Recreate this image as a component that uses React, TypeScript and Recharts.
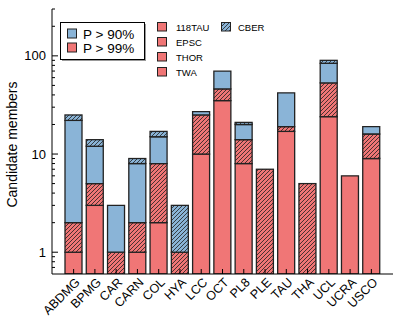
import { BarChart, Bar, XAxis, YAxis } from 'recharts'

// moving groups, left to right
const categories = [
  'ABDMG', 'BPMG', 'CAR', 'CARN', 'COL', 'HYA', 'LCC', 'OCT',
  'PL8', 'PLE', 'TAU', 'THA', 'UCL', 'UCRA', 'USCO',
]
// P > 99%, solid
const highProb = [1, 3, 0, 1, 2, 0, 10, 35, 8, 0, 17, 0, 24, 6, 9]
// P > 99%, hatched
const highProbHatched = [1, 2, 1, 1, 6, 1, 15, 11, 6, 7, 2, 5, 29, 0, 7]
// P > 90%, solid
const midProb = [20, 7, 2, 6, 7, 0, 2, 24, 6, 0, 23, 0, 31, 0, 3]
// P > 90%, hatched
const midProbHatched = [3, 2, 0, 1, 2, 2, 0, 0, 1, 0, 0, 0, 6, 0, 0]

const yTicks = [
  0.7, 0.8, 0.9, 1, 2, 3, 4, 5, 6, 7, 8, 9, 10,
  20, 30, 40, 50, 60, 70, 80, 90, 100, 200, 300,
]
const yMajor = [1, 10, 100]

const sideGroups = ['118TAU', 'EPSC', 'THOR', 'TWA']

const RED = '#F07676'
const BLUE = '#8AB4D7'
const EDGE = '#222'
const FONT = '"Liberation Sans", Arial, Helvetica, sans-serif'
const HATCH_STEP = 4

const data = categories.map((name, i) => ({
  name,
  high: highProb[i],
  highH: highProbHatched[i],
  mid: midProb[i],
  midH: midProbHatched[i],
}))

// "/" hatch lines inside a box, aligned to a global grid
function hatchPath(x0: number, y0: number, w: number, h: number) {
  const x1 = x0 + w
  const y1 = y0 + h
  let d = ''
  const start = Math.ceil((x0 + y0) / HATCH_STEP) * HATCH_STEP
  for (let c = start; c <= x1 + y1; c += HATCH_STEP) {
    const xa = Math.max(x0, c - y1)
    const xb = Math.min(x1, c - y0)
    if (xb <= xa) continue
    d += `M${xa},${c - xa}L${xb},${c - xb}`
  }
  return d
}

const hatchedShape = (color: string) => (props: any) => {
  const { x, y, width, height } = props
  if (!width || !height || !isFinite(height)) return <g />
  return (
    <g>
      <rect x={x} y={y} width={width} height={height} fill={color} />
      <path d={hatchPath(x, y, width, height)} stroke="#1e1e1e" strokeWidth={0.8} fill="none" />
      <rect x={x} y={y} width={width} height={height} fill="none" stroke={EDGE} strokeWidth={1.3} />
    </g>
  )
}

const LeftTick = (props: any) => {
  const { x, y, payload } = props
  const major = yMajor.includes(payload.value)
  return (
    <g>
      <line x1={x} x2={x + (major ? 6 : 3)} y1={y} y2={y} stroke="#000" />
      {major && (
        <text x={x - 6} y={y} dy={4.5} textAnchor="end" fontSize={13} fontFamily={FONT} fill="#000">
          {payload.value}
        </text>
      )}
    </g>
  )
}

const RightTick = (props: any) => {
  const { x, y, payload } = props
  const major = yMajor.includes(payload.value)
  return <line x1={x} x2={x - (major ? 6 : 3)} y1={y} y2={y} stroke="#000" />
}

const BottomTick = (props: any) => {
  const { x, y, payload } = props
  const tx = x + 7
  const ty = y + 9
  return (
    <g>
      <line x1={x} x2={x} y1={y} y2={y - 5} stroke="#000" />
      <text
        x={tx}
        y={ty}
        textAnchor="end"
        fontSize={12.5}
        fontFamily={FONT}
        fill="#000"
        transform={`rotate(-45 ${tx} ${ty})`}
      >
        {payload.value}
      </text>
    </g>
  )
}

const TopTick = (props: any) => {
  const { x, y } = props
  return <line x1={x} x2={x} y1={y} y2={y + 5} stroke="#000" />
}

const YLabel = (props: any) => {
  const vb = props.viewBox
  const cx = vb.x + 12
  const cy = vb.y + vb.height / 2 + 3
  return (
    <text
      x={cx}
      y={cy}
      textAnchor="middle"
      dominantBaseline="central"
      fontSize={14}
      fontFamily={FONT}
      fill="#000"
      transform={`rotate(-90 ${cx} ${cy})`}
    >
      Candidate members
    </text>
  )
}

function Legends() {
  return (
    <svg
      width={403}
      height={323}
      style={{ position: 'absolute', left: 0, top: 0, pointerEvents: 'none' }}
    >
      {/* probability legend */}
      <rect x={62} y={24} width={84} height={37} fill="#999" />
      <rect x={60.5} y={22.5} width={84} height={37} fill="#fff" stroke="#000" />
      <rect x={67.5} y={29} width={9} height={9} fill={BLUE} stroke={EDGE} />
      <text x={83} y={38.5} fontSize={13.5} fontFamily={FONT}>P &gt; 90%</text>
      <rect x={67.5} y={43} width={9} height={9} fill={RED} stroke={EDGE} />
      <text x={83} y={52.5} fontSize={13.5} fontFamily={FONT}>P &gt; 99%</text>
      {/* groups with no bar */}
      {sideGroups.map((g, i) => (
        <g key={g}>
          <rect x={157.5} y={22.5 + i * 15} width={9} height={8.5} fill={RED} stroke={EDGE} />
          <text x={176} y={30.5 + i * 15} fontSize={9.5} fontFamily={FONT}>{g}</text>
        </g>
      ))}
      <rect x={221.5} y={22.5} width={9} height={8.5} fill={BLUE} />
      <path d={hatchPath(221.5, 22.5, 9, 8.5)} stroke="#1e1e1e" strokeWidth={0.8} fill="none" />
      <rect x={221.5} y={22.5} width={9} height={8.5} fill="none" stroke={EDGE} />
      <text x={238} y={30.5} fontSize={9.5} fontFamily={FONT}>CBER</text>
    </svg>
  )
}

export default function App() {
  return (
    <div style={{ position: 'absolute', left: 0, top: 0, width: 403, height: 323, background: '#fff' }}>
      <BarChart
        width={403}
        height={323}
        data={data}
        margin={{ top: 9, right: 10, left: 0, bottom: 0 }}
        barSize={17}
      >
        <XAxis
          dataKey="name"
          height={49}
          interval={0}
          padding={{ left: 11, right: 11 }}
          tickSize={0}
          tickMargin={0}
          tickLine={false}
          axisLine={{ stroke: '#000' }}
          tick={<BottomTick />}
        />
        <XAxis
          xAxisId="top"
          dataKey="name"
          orientation="top"
          height={0}
          interval={0}
          padding={{ left: 11, right: 11 }}
          tickSize={0}
          tickMargin={0}
          tickLine={false}
          axisLine={{ stroke: '#000' }}
          tick={<TopTick />}
        />
        <YAxis
          type="number"
          scale="log"
          domain={[0.6, 300]}
          allowDataOverflow
          ticks={yTicks}
          interval={0}
          width={52}
          tickSize={0}
          tickMargin={0}
          tickLine={false}
          axisLine={{ stroke: '#000' }}
          tick={<LeftTick />}
          label={<YLabel />}
        />
        <YAxis
          yAxisId="right"
          orientation="right"
          type="number"
          scale="log"
          domain={[0.6, 300]}
          allowDataOverflow
          ticks={yTicks}
          interval={0}
          width={0}
          tickSize={0}
          tickMargin={0}
          tickLine={false}
          axisLine={{ stroke: '#000' }}
          tick={<RightTick />}
        />
        <Bar dataKey="high" stackId="s" fill={RED} stroke={EDGE} strokeWidth={1.3} isAnimationActive={false} />
        <Bar dataKey="highH" stackId="s" fill={RED} shape={hatchedShape(RED)} isAnimationActive={false} />
        <Bar dataKey="mid" stackId="s" fill={BLUE} stroke={EDGE} strokeWidth={1.3} isAnimationActive={false} />
        <Bar dataKey="midH" stackId="s" fill={BLUE} shape={hatchedShape(BLUE)} isAnimationActive={false} />
      </BarChart>
      <Legends />
    </div>
  )
}
